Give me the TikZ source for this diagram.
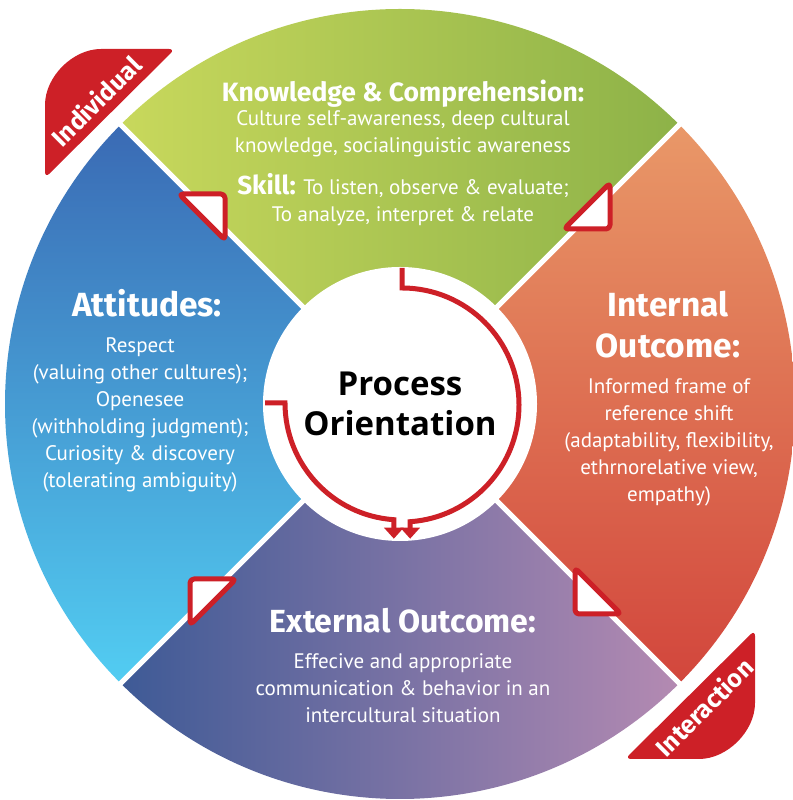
\documentclass[tikz,border=0pt]{standalone}
\usepackage{fontspec}
\setmainfont{PT Sans}
\newfontfamily\headfont{Fira Sans}
\newfontfamily\centerfont{Open Sans}
\usetikzlibrary{arrows.meta}
\definecolor{greenL}{RGB}{200,216,92}
\definecolor{greenR}{RGB}{141,178,72}
\definecolor{orangeT}{RGB}{233,152,104}
\definecolor{orangeB}{RGB}{210,70,60}
\definecolor{purpleL}{RGB}{62,90,150}
\definecolor{purpleR}{RGB}{180,138,178}
\definecolor{blueT}{RGB}{58,106,180}
\definecolor{blueB}{RGB}{82,205,242}
\definecolor{flowred}{RGB}{205,32,39}
\begin{document}
\begin{tikzpicture}[x=1pt,y=1pt]
        \tikzstyle{heading}=[text=white,font=\headfont\bfseries\fontsize{26.5}{30}\selectfont,align=center]
        \tikzstyle{bighead}=[text=white,font=\headfont\bfseries\fontsize{33.5}{41}\selectfont,align=center]
        \tikzstyle{bodytext}=[text=white,font=\fontsize{21}{27}\selectfont,align=center]
        \tikzstyle{flowline}=[draw=flowred,line width=5,line join=miter,-{Triangle[width=19pt,length=11pt]}]
        \tikzstyle{marker}=[draw=flowred,fill=white,line width=5,rounded corners=4,line join=round]
        \tikzstyle{tab}=[fill=flowred,rounded corners=6]
        \tikzstyle{tablabel}=[text=white,font=\headfont\bfseries\fontsize{25}{28}\selectfont,rotate=45]
        \useasboundingbox (0,0) rectangle (792,800);
        \coordinate (C) at (400,396);
        % quadrants
        \shade[left color=greenL,right color=greenR] (C) -- ++(45:395) arc[start angle=45,end angle=135,radius=395] -- cycle;
        \shade[top color=orangeT,bottom color=orangeB] (C) -- ++(-45:395) arc[start angle=-45,end angle=45,radius=395] -- cycle;
        \shade[left color=purpleL,right color=purpleR] (C) -- ++(225:395) arc[start angle=225,end angle=315,radius=395] -- cycle;
        \shade[top color=blueT,bottom color=blueB] (C) -- ++(135:395) arc[start angle=135,end angle=225,radius=395] -- cycle;
        \draw[white,line width=5] (C) -- ++(45:396) (C) -- ++(135:396) (C) -- ++(225:396) (C) -- ++(315:396);
        \node [circle,fill=white,minimum size=274pt,inner sep=0pt,align=center,
               font=\centerfont\bfseries\fontsize{33}{40}\selectfont] (proc) at (C) {Process\\Orientation};
        % flow arrows
        \draw[flowline] (402,532) -- (402,512) arc[start angle=90,end angle=-86,radius=117] -- ++(0,-17);
        \draw[flowline] (265,397) -- (285,397) arc[start angle=180,end angle=266,radius=117] -- ++(0,-19);
        \foreach \ang in {0,-90,-180,-270}
           \draw[marker,rotate around={\ang:(C)}] (225,606) -- (179,606) -- (225,560) -- cycle;
        % tabs
        \fill[tab] (45,622) -- (175,751) -- (107,751) arc[start angle=90,end angle=180,radius=62] -- cycle;
        \fill[tab] (755,170) -- (625,41) -- (693,41) arc[start angle=-90,end angle=0,radius=62] -- cycle;
        \node [tablabel] (indiv) at (96,699) {Individual};
        \node [tablabel] (inter) at (704,93) {Interaction};
        % texts
        \node [heading,anchor=base] (knowhead) at (403,698) {Knowledge \& Comprehension:};
        \node [bodytext,anchor=base] (knowtext) at (403,647) {Culture self-awareness, deep cultural\\knowledge, socialinguistic awareness};
        \node [bodytext,anchor=base] (skilltext) at (403,578) {{\headfont\bfseries\fontsize{26}{27}\selectfont Skill:} To listen, observe \& evaluate;\\To analyze, interpret \& relate};
        \node [bighead,anchor=base] (atthead) at (147,483) {Attitudes:};
        \node [bodytext,anchor=base] (atttext) at (140,312) {Respect\\(valuing other cultures);\\Openesee\\(withholding judgment);\\Curiosity \& discovery\\(tolerating ambiguity)};
        \node [bighead,anchor=base] (inthead) at (668,442) {Internal\\Outcome:};
        \node [bodytext,anchor=base] (inttext) at (669,298) {Informed frame of\\reference shift\\(adaptability, flexibility,\\ethrnorelative view,\\empathy)};
        \node [bighead,font=\headfont\bfseries\fontsize{32}{34}\selectfont,anchor=base] (exthead) at (403,167) {External Outcome:};
        \node [bodytext,anchor=base] (exttext) at (403,77) {Effecive and appropriate\\communication \& behavior in an\\intercultural situation};
\end{tikzpicture}
\end{document}
